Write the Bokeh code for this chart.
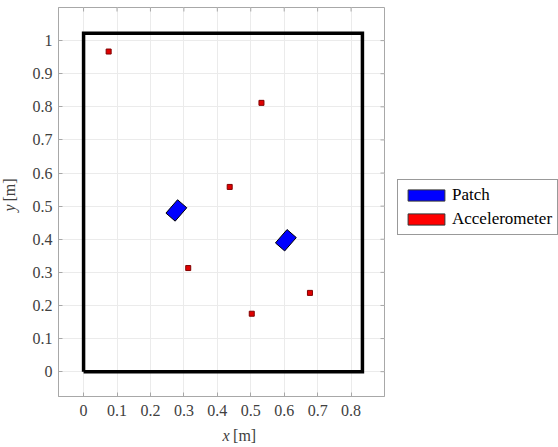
import math
from bokeh.plotting import figure
from bokeh.layouts import row, column
from bokeh.models import Range1d, LinearAxis, FixedTicker, Legend, LegendItem
from bokeh.core.properties import value
from bokeh.embed import file_html
from bokeh.resources import INLINE

# ---- data ----
plate_x = [0.0, 0.834, 0.834, 0.0, 0.0]
plate_y = [0.0, 0.0, 1.022, 1.022, 0.0]

patch_x = [0.2775, 0.605]
patch_y = [0.487, 0.397]

accel_x = [0.075, 0.532, 0.437, 0.313, 0.677, 0.503]
accel_y = [0.967, 0.812, 0.558, 0.313, 0.238, 0.175]

x_ticks = [0.0, 0.1, 0.2, 0.3, 0.4, 0.5, 0.6, 0.7, 0.8]
y_ticks = [0.0, 0.1, 0.2, 0.3, 0.4, 0.5, 0.6, 0.7, 0.8, 0.9, 1.0]
x_tick_labels = ["0", "0.1", "0.2", "0.3", "0.4", "0.5", "0.6", "0.7", "0.8"]
y_tick_labels = ["0", "0.1", "0.2", "0.3", "0.4", "0.5", "0.6", "0.7", "0.8", "0.9", "1"]

legend_labels = ["Patch", "Accelerometer"]

X0, X1 = -0.075, 0.9
Y0, Y1 = -0.075, 1.1

FONT = "Liberation Serif"
AX_COL = "#a8a8a8"
LBL_COL = "#404040"
PATCH_COL = "#0000ff"
ACC_COL = "#e00000"

# ---------------- main axes ----------------
p = figure(frame_width=326, frame_height=389,
           x_range=Range1d(X0, X1), y_range=Range1d(Y0, Y1),
           output_backend="svg", toolbar_location=None,
           x_axis_location=None, y_axis_location=None,
           min_border_left=38, min_border_bottom=29, min_border_top=7, min_border_right=2)
p.background_fill_color = "white"
p.outline_line_color = AX_COL
p.outline_line_width = 1

xt = FixedTicker(ticks=x_ticks)
yt = FixedTicker(ticks=y_ticks)

def style_axis(ax, standoff):
    ax.axis_line_color = AX_COL
    ax.major_tick_line_color = AX_COL
    ax.major_tick_in = 4
    ax.major_tick_out = 0
    ax.minor_tick_line_color = None
    ax.major_label_text_font = FONT
    ax.major_label_text_font_size = "16px"
    ax.major_label_text_color = LBL_COL
    ax.major_label_standoff = standoff

bx = LinearAxis(ticker=xt, major_label_overrides=dict(zip(x_ticks, x_tick_labels)))
style_axis(bx, 8)
ly = LinearAxis(ticker=yt, major_label_overrides=dict(zip(y_ticks, y_tick_labels)))
style_axis(ly, 6)
p.add_layout(bx, "below")
p.add_layout(ly, "left")

p.xgrid.ticker = xt
p.ygrid.ticker = yt
p.xgrid.grid_line_color = "#ebebeb"
p.ygrid.grid_line_color = "#ebebeb"

# inside ticks on top and right edges (half of each dash is clipped by the frame)
p.scatter(x=x_ticks, y=[Y1] * len(x_ticks), marker="dash", angle=math.pi / 2,
          size=8, line_color=AX_COL, line_width=1)
p.scatter(x=[X1] * len(y_ticks), y=y_ticks, marker="dash",
          size=8, line_color=AX_COL, line_width=1)

# plate boundary
p.line(plate_x, plate_y, line_color="black", line_width=3.5, line_join="miter")

# patches
p.rect(x=patch_x, y=patch_y, width=0.053, height=0.037, angle=49,
       angle_units="deg", fill_color=PATCH_COL, line_color="black", line_width=1)

# accelerometers
p.scatter(x=accel_x, y=accel_y, marker="square", size=5,
          fill_color=ACC_COL, line_color="#800000", line_width=1)

# ---------------- axis titles (separate canvases) ----------------
def blank(w, h, xr, yr):
    f = figure(width=w, height=h, x_range=Range1d(*xr), y_range=Range1d(*yr),
               output_backend="svg", toolbar_location=None,
               x_axis_location=None, y_axis_location=None, min_border=0)
    f.outline_line_color = None
    f.xgrid.visible = False
    f.ygrid.visible = False
    return f

ylab = blank(20, 447, (0, 20), (0, 447))
ylab.text(x=[9], y=[243], text=["y"], angle=math.pi / 2,
          text_font=value(FONT), text_font_style="italic", text_font_size="16px",
          text_color=LBL_COL, text_align="right", text_baseline="middle")
ylab.text(x=[9], y=[246], text=["[m]"], angle=math.pi / 2,
          text_font=value(FONT), text_font_size="16px",
          text_color=LBL_COL, text_align="left", text_baseline="middle")

xlab = blank(366, 22, (0, 366), (0, 22))
xlab.text(x=[192], y=[12.5], text=["x"],
          text_font=value(FONT), text_font_style="italic", text_font_size="16px",
          text_color=LBL_COL, text_align="right", text_baseline="middle")
xlab.text(x=[196], y=[12.5], text=["[m]"],
          text_font=value(FONT), text_font_size="16px",
          text_color=LBL_COL, text_align="left", text_baseline="middle")

# ---------------- legend canvas ----------------
leg = blank(172, 447, (0, 1), (0, 1))
r_patch = leg.rect(x=patch_x, y=patch_y, width=0.01, height=0.01,
                   fill_color=PATCH_COL, line_color="#333333", line_width=1, visible=False)
r_acc = leg.rect(x=accel_x, y=accel_y, width=0.01, height=0.01,
                 fill_color="#ff0000", line_color="#333333", line_width=1, visible=False)
legend = Legend(items=[LegendItem(label=legend_labels[0], renderers=[r_patch]),
                       LegendItem(label=legend_labels[1], renderers=[r_acc])],
                location=(11, 212), orientation="vertical")
legend.label_text_font = FONT
legend.label_text_font_size = "17px"
legend.label_text_color = "black"
legend.glyph_width = 46
legend.glyph_height = 14
legend.label_height = 20
legend.label_standoff = 3
legend.spacing = 4
legend.padding = 5
legend.margin = 0
legend.border_line_color = "#333333"
legend.border_line_width = 1
legend.background_fill_color = "white"
leg.add_layout(legend)

layout = row(ylab, column(p, xlab), leg)

open("out.html", "w").write(file_html(layout, INLINE))
